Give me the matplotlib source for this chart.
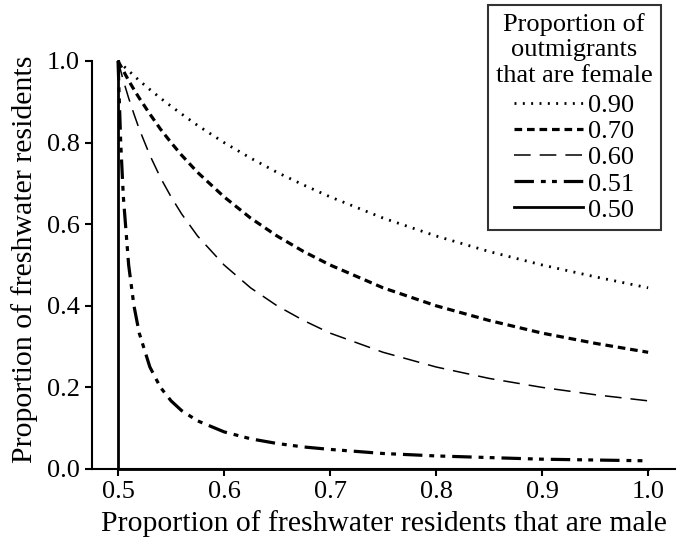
import numpy as np
from matplotlib import pyplot as plt

plt.rcParams['font.family'] = ['Liberation Serif', 'DejaVu Serif']
plt.rcParams['lines.scale_dashes'] = False

# proportion of freshwater residents that are male
male = [0.50, 0.5025, 0.505, 0.51, 0.515, 0.52, 0.53, 0.54, 0.55, 0.56, 0.575,
        0.60, 0.625, 0.65, 0.675, 0.70, 0.75, 0.80, 0.85, 0.90, 0.95, 1.00]

# proportion of freshwater residents, one list per female proportion of outmigrants
res_090 = [1.0, 0.994, 0.988, 0.976, 0.964, 0.952, 0.930, 0.909, 0.889, 0.870, 0.842,
           0.800, 0.762, 0.727, 0.696, 0.667, 0.615, 0.571, 0.533, 0.500, 0.471, 0.444]
res_070 = [1.0, 0.988, 0.976, 0.952, 0.930, 0.909, 0.870, 0.833, 0.800, 0.769, 0.727,
           0.667, 0.615, 0.571, 0.533, 0.500, 0.444, 0.400, 0.364, 0.333, 0.308, 0.286]
res_060 = [1.0, 0.976, 0.952, 0.909, 0.870, 0.833, 0.769, 0.714, 0.667, 0.625, 0.571,
           0.500, 0.444, 0.400, 0.364, 0.333, 0.286, 0.250, 0.222, 0.200, 0.182, 0.167]
res_051 = [1.0, 0.800, 0.667, 0.500, 0.400, 0.333, 0.250, 0.200, 0.167, 0.143, 0.118,
           0.091, 0.074, 0.0625, 0.054, 0.048, 0.038, 0.032, 0.028, 0.024, 0.022, 0.020]
male_050 = [0.50, 0.50, 1.00]
res_050 = [1.0, 0.0, 0.0]

fig = plt.figure(figsize=(6.82, 5.40), dpi=100)
ax = fig.add_axes([0.135, 0.1315, 0.855, 0.7556])

ax.plot(male, res_090, color='k', lw=2.0, linestyle=(0, (1.4, 4.6)),
        label='0.90', clip_on=False)
ax.plot(male, res_070, color='k', lw=2.3, linestyle=(0, (5.5, 3.5)),
        label='0.70', clip_on=False)
ax.plot(male, res_060, color='k', lw=1.1, linestyle=(0, (12, 6.5)),
        label='0.60', clip_on=False)
ax.plot(male, res_051, color='k', lw=2.3, linestyle=(0, (14, 5, 3.5, 4.5, 3.5, 5)),
        label='0.51', clip_on=False)
ax.plot(male_050, res_050, color='k', lw=2.0, label='0.50', clip_on=False)

ax.set_xlim(0.4755, 1.0255)
ax.set_ylim(0, 1.0)
ax.set_xticks([0.5, 0.6, 0.7, 0.8, 0.9, 1.0])
ax.set_yticks([0.0, 0.2, 0.4, 0.6, 0.8, 1.0])
ax.set_xticklabels(['0.5', '0.6', '0.7', '0.8', '0.9', '1.0'])
ax.set_yticklabels(['0.0', '0.2', '0.4', '0.6', '0.8', '1.0'])
ax.spines['top'].set_visible(False)
ax.spines['right'].set_visible(False)
ax.spines['left'].set_linewidth(1.5)
ax.spines['bottom'].set_linewidth(1.5)
ax.tick_params(direction='out', length=5, width=1.5, labelsize=19, pad=4)

ax.set_xlabel('Proportion of freshwater residents that are male', fontsize=21.3, labelpad=5)
ax.set_ylabel('Proportion of freshwater residents', fontsize=21.5, labelpad=6)
ax.yaxis.label.set_y(0.515)

leg = ax.legend(title='Proportion of\noutmigrants\nthat are female', loc='upper right',
                bbox_to_anchor=(0.975, 1.137), fontsize=19, title_fontsize=19,
                frameon=True, fancybox=False, edgecolor='k', handlelength=2.6,
                handletextpad=0.2, labelspacing=0.1, borderpad=0.3,
                borderaxespad=0)
leg.get_frame().set_linewidth(1.5)
leg.get_title().set_multialignment('center')
leg._legend_box.sep = 5

fig.savefig('out.png', dpi=100)
